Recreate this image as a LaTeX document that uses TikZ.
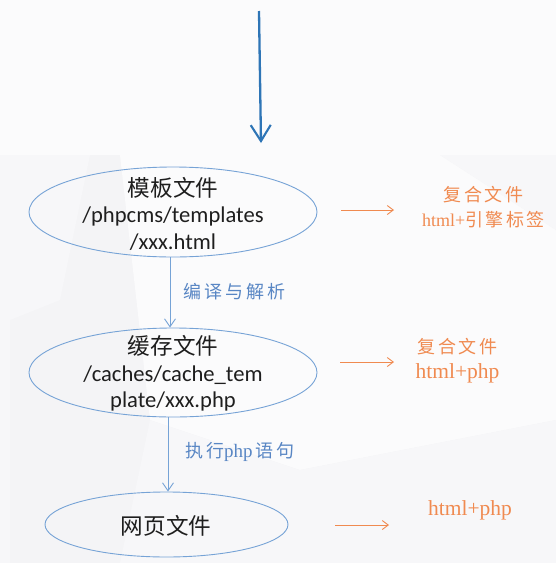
\documentclass[tikz,border=0pt]{standalone}
\usepackage{fontspec}
\setmainfont{Carlito}
\newfontfamily\cjk{Noto Sans CJK SC}
\newfontfamily\serifl{Liberation Serif}
\usetikzlibrary{shapes.geometric,arrows.meta}
\definecolor{bgA}{RGB}{247,247,249}
\definecolor{bgB}{RGB}{244,244,246}
\definecolor{bgC}{RGB}{251,251,252}
\definecolor{ellblue}{RGB}{118,163,214}
\definecolor{labblue}{RGB}{88,134,196}
\definecolor{topblue}{RGB}{46,117,182}
\definecolor{orng}{RGB}{240,138,80}
\definecolor{txt}{RGB}{30,30,30}
\tikzset{
  ell/.style={ellipse, draw=ellblue, line width=0.9pt, inner sep=0pt},
  eltext/.style={align=center, text=txt, inner sep=0pt, font=\fontsize{22.6}{26.5}\selectfont},
  conn/.style={draw=ellblue, line width=0.9pt, -{Straight Barb[length=8pt,width=11pt,line width=0.9pt]}},
  topconn/.style={draw=topblue, line width=2.3pt, -{Straight Barb[length=16pt,width=20pt,line width=2.1pt]}},
  oconn/.style={draw=orng, line width=0.9pt, -{Straight Barb[length=6pt,width=9pt,line width=0.9pt]}},
  blab/.style={anchor=west, text=labblue, inner sep=0pt, font=\fontsize{18}{20}\selectfont},
  olab/.style={align=center, text=orng, inner sep=0pt, font=\fontsize{18}{25}\selectfont\serifl},
}
\newcommand{\gp}{\hspace{3pt}}
\newcommand{\og}{\hspace{2.5pt}}
\begin{document}
\begin{tikzpicture}[x=1pt,y=-1pt]
\useasboundingbox (0,0) rectangle (556,563);
% background
\fill[bgA] (0,0) rectangle (556,563);
\fill[bgC] (0,0) rectangle (556,155);
\fill[bgB] (10,155) rectangle (556,563);
\fill[bgA] (10,155) -- (90,155) -- (60,300) -- (10,320) -- cycle;
\fill[bgC] (120,155) -- (440,155) -- (556,230) -- (556,420) -- (300,470) -- (150,420) -- cycle;
\fill[bgA] (440,155) -- (556,155) -- (556,230) -- cycle;
\fill[bgA] (150,420) -- (300,470) -- (556,420) -- (556,563) -- (120,563) -- cycle;
\fill[bgC] (0,0) -- (120,0) -- (240,155) -- (0,155) -- cycle;

% top arrow
\coordinate (topS) at (259,11);
\coordinate (topE) at (261,143);
\draw[topconn] (topS) -- (topE);

% ellipses
\node[ell, minimum width=288pt, minimum height=90pt] (e1) at (173,212) {};
\node[eltext] (t1) at (173,213.5) {{\cjk 模板文件}\\/phpcms/templates\\/xxx.html};

\node[ell, minimum width=288pt, minimum height=89pt] (e2) at (173,372.5) {};
\node[eltext] (t2) at (173,373.5) {{\cjk 缓存文件}\\/caches/cache\_tem\\plate/xxx.php};

\node[ell, minimum width=243pt, minimum height=65pt] (e3) at (166.5,524.5) {};
\node[eltext] (t3) at (166,526) {\cjk 网页文件};

% connectors
\draw[conn] ([xshift=-3pt]e1.south) -- ([xshift=-3pt]e2.north);
\draw[conn] ([xshift=-5pt]e2.south) -- ([xshift=1.5pt]e3.north);

% connector labels
\node[blab] (l1) at (183,292) {\cjk 编\gp 译\gp 与\gp 解\gp 析};
\node[blab] (l2) at (185,452) {{\cjk 执\gp 行}{\serifl\fontsize{19}{20}\selectfont php}{\cjk\gp 语\gp 句}};

% orange arrows
\coordinate (o1s) at (341,210);
\coordinate (o1e) at (394,210);
\draw[oconn] (o1s) -- (o1e);
\coordinate (o2s) at (340,362);
\coordinate (o2e) at (394,362);
\draw[oconn] (o2s) -- (o2e);
\coordinate (o3s) at (335,525);
\coordinate (o3e) at (389,525);
\draw[oconn] (o3s) -- (o3e);

% orange labels
\node[olab] (r1) at (483.5,207.5) {{\cjk\fontsize{18}{20}\selectfont 复\og 合\og 文\og 件}\\html+{\cjk\fontsize{18}{20}\selectfont 引\og 擎\og 标\og 签}};
\node[olab] (r2) at (457.5,361) {{\cjk\fontsize{18}{20}\selectfont 复\og 合\og 文\og 件}\\{\fontsize{21.5}{24}\selectfont html+php}};
\node[olab, font=\fontsize{21.5}{24}\selectfont\serifl] (r3) at (470,510) {html+php};
\end{tikzpicture}
\end{document}
